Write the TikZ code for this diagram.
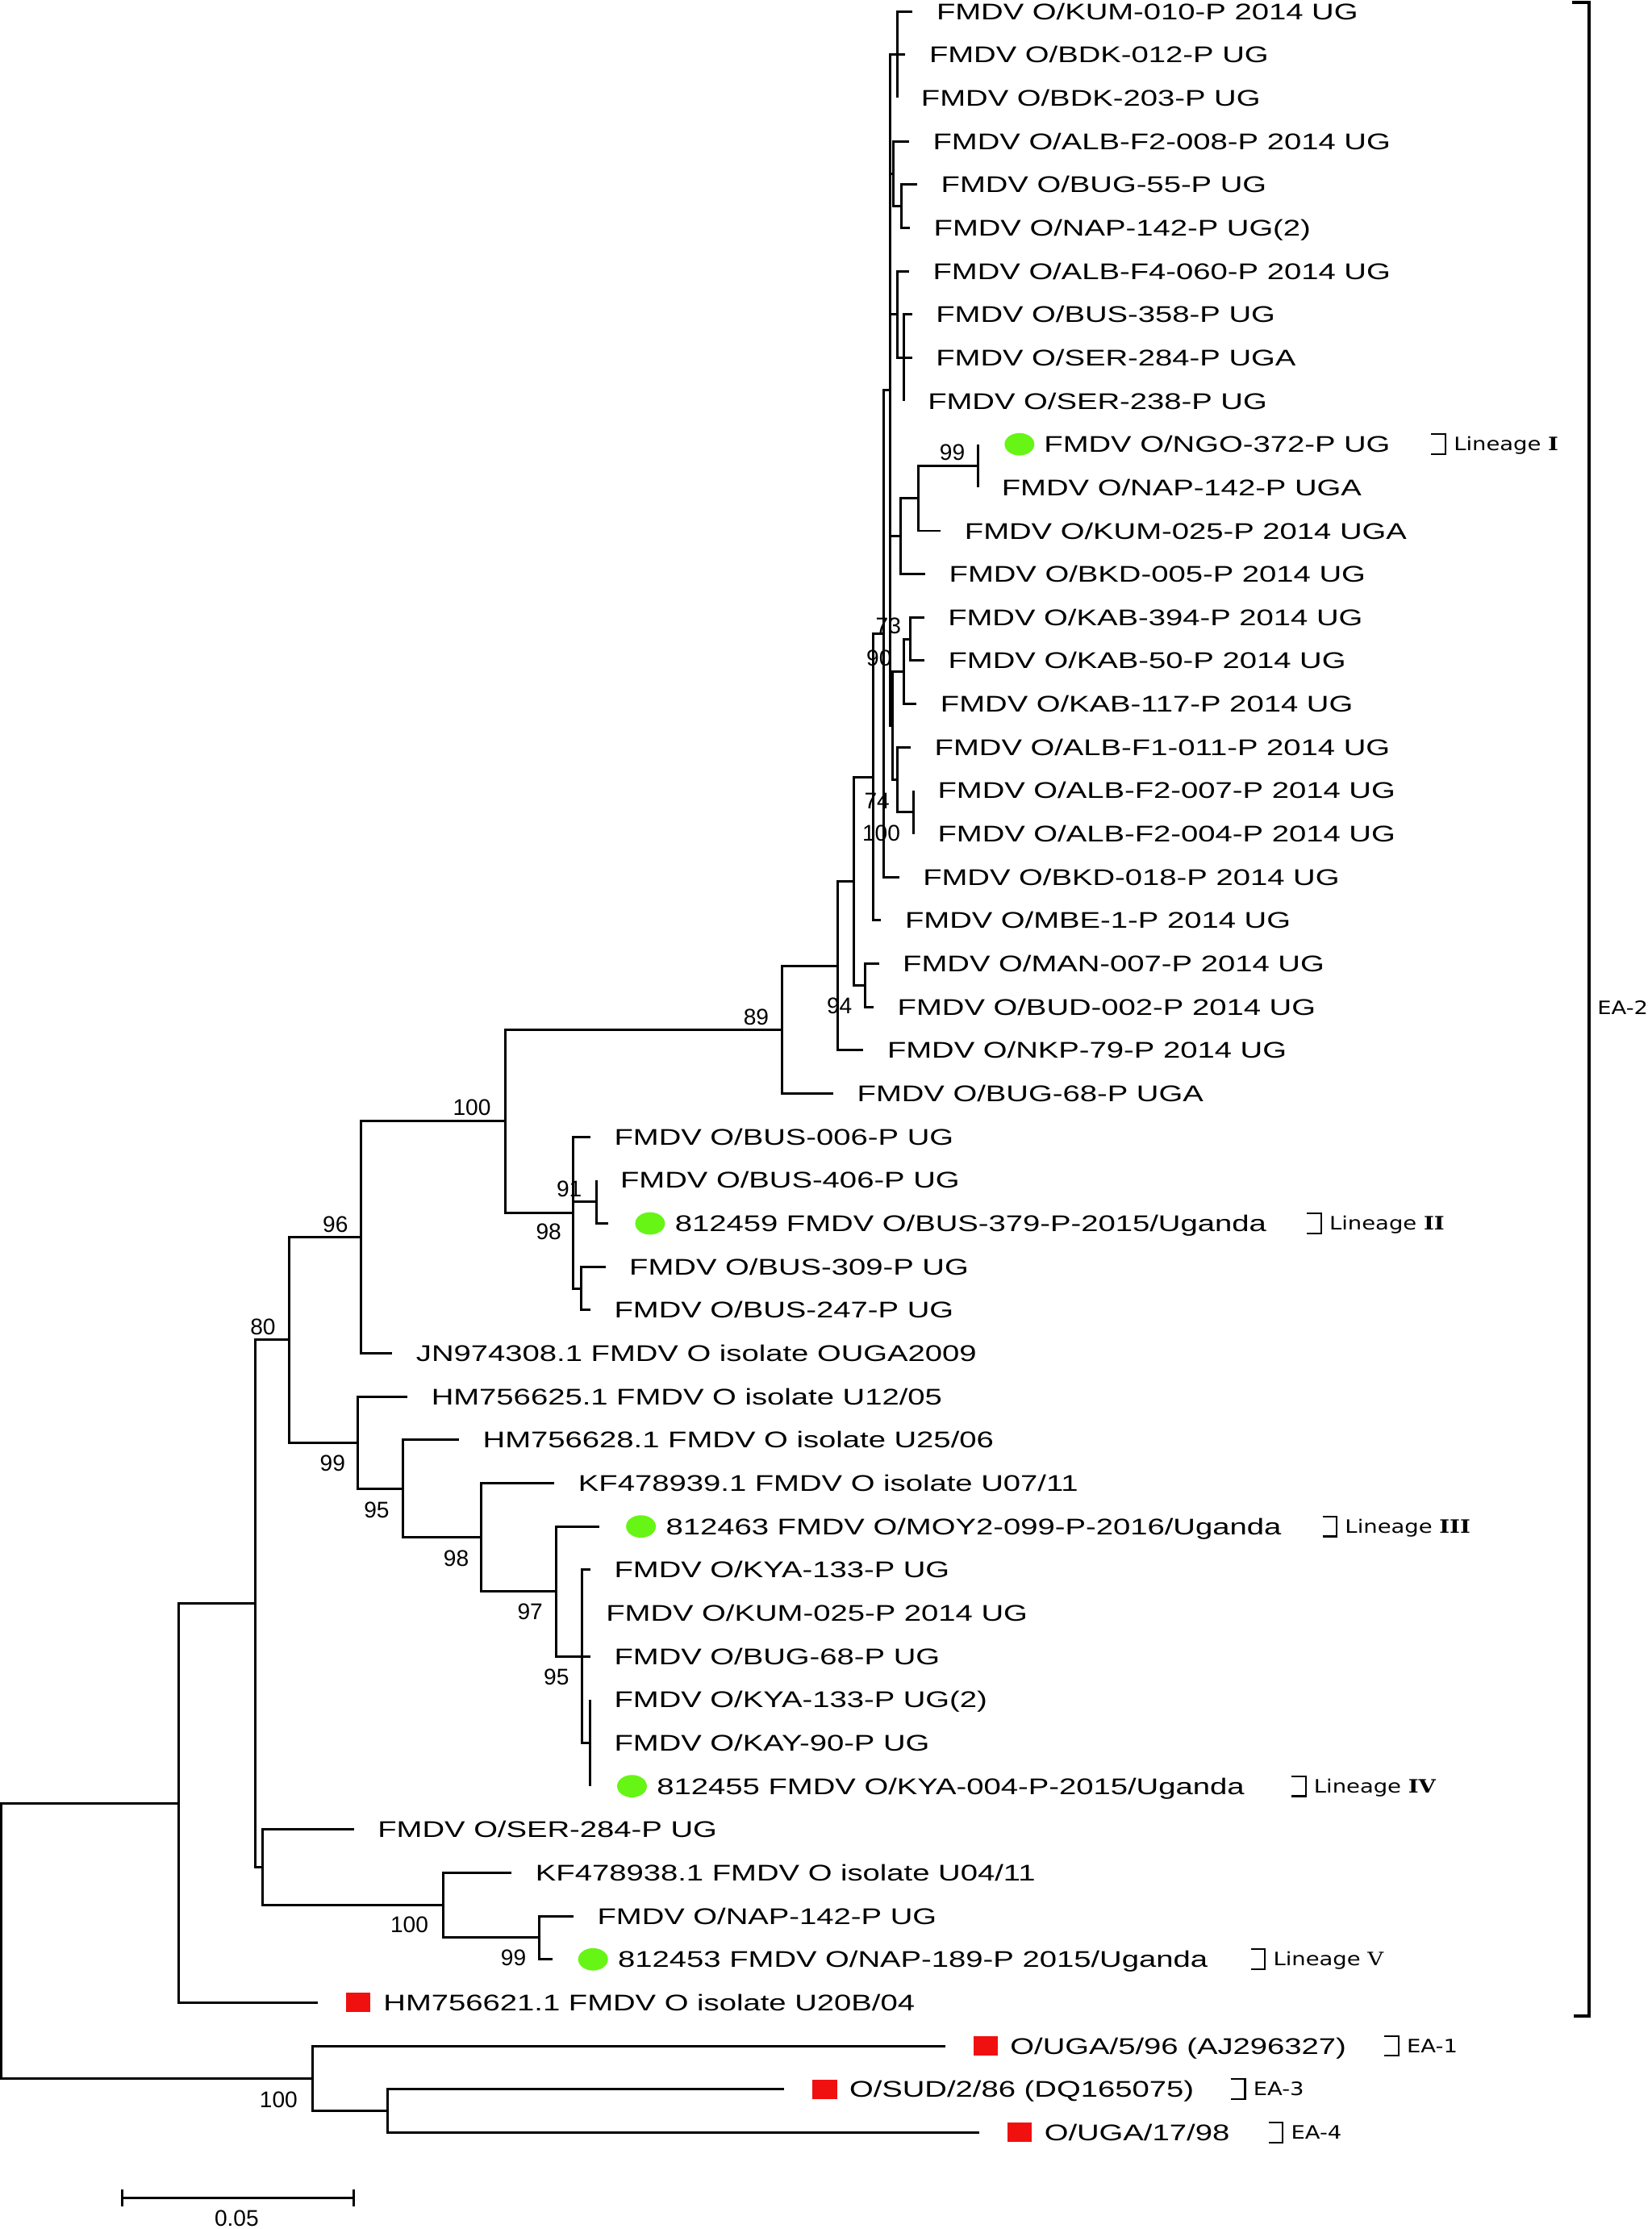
\documentclass[tikz,border=0pt]{standalone}
\usepackage{fontspec}
\setmainfont[FakeStretch=1.36]{Liberation Sans}
\newfontfamily\bsfont{Liberation Sans}
\newfontfamily\cladefont[FakeStretch=1.2]{DejaVu Sans}
\newfontfamily\romfont[FakeStretch=1.2]{DejaVu Serif}
\usetikzlibrary{positioning,shapes.geometric}
\definecolor{dotgreen}{RGB}{102,245,20}
\definecolor{boxred}{RGB}{240,16,16}
\newcommand{\cladebrk}[4]{
	\draw[line width=0.6pt] ({#2-10},{#3-0.23}) -- (#2,{#3-0.23}) -- (#2,{#3+0.23}) -- ({#2-10},{#3+0.23});
	\node[cladetxt] (#1) at ({#2+5},#3) {#4};
}

\begin{document}
\begin{tikzpicture}[x=0.017625cm,y=-0.53668cm,line width=0.85pt,
		leaf/.style={anchor=west,inner sep=0pt,font=\fontsize{8}{9}\selectfont,text height=5.7pt,text depth=0pt},
		boot/.style={inner sep=0pt,font=\bsfont\fontsize{8}{9}\selectfont,text height=5.7pt,text depth=0pt},
		gdot/.style={ellipse,fill=dotgreen,draw=none,inner sep=0pt,minimum width=10.5pt,minimum height=7.9pt},
		rbox/.style={rectangle,fill=boxred,draw=none,inner sep=0pt,minimum width=8.7pt,minimum height=6.8pt},
		cladetxt/.style={anchor=west,inner sep=0pt,font=\cladefont\fontsize{6.5}{8}\selectfont,text height=4.7pt,text depth=0pt}]
				\path[fill=white,use as bounding box] (0,0.7373) rectangle (1162,52.23);

				\coordinate (t1) at (642.1,1);
				\coordinate (t2) at (637.0,2);
				\coordinate (t3) at (631.3,3);
				\coordinate (t4) at (639.6,4);
				\coordinate (t5) at (645.3,5);
				\coordinate (t6) at (640.2,6);
				\coordinate (t7) at (639.6,7);
				\coordinate (t8) at (641.7,8);
				\coordinate (t9) at (641.7,9);
				\coordinate (t10) at (636.0,10);
				\coordinate (t11) at (688.0,11);
				\coordinate (t12) at (688.0,12);
				\coordinate (t13) at (661.9,13);
				\coordinate (t14) at (651.0,14);
				\coordinate (t15) at (650.2,15);
				\coordinate (t16) at (650.4,16);
				\coordinate (t17) at (644.9,17);
				\coordinate (t18) at (640.8,18);
				\coordinate (t19) at (643.0,19);
				\coordinate (t20) at (643.0,20);
				\coordinate (t21) at (632.6,21);
				\coordinate (t22) at (620.0,22);
				\coordinate (t23) at (618.4,23);
				\coordinate (t24) at (614.7,24);
				\coordinate (t25) at (607.5,25);
				\coordinate (t26) at (586.3,26);
				\coordinate (t27) at (415.4,27);
				\coordinate (t28) at (419.7,28);
				\coordinate (t29) at (428.1,29);
				\coordinate (t30) at (426.0,30);
				\coordinate (t31) at (415.4,31);
				\coordinate (t32) at (276.0,32);
				\coordinate (t33) at (286.7,33);
				\coordinate (t34) at (323.0,34);
				\coordinate (t35) at (390.1,35);
				\coordinate (t36) at (421.7,36);
				\coordinate (t37) at (415.4,37);
				\coordinate (t38) at (409.6,38);
				\coordinate (t39) at (415.4,39);
				\coordinate (t40) at (415.4,40);
				\coordinate (t41) at (415.4,41);
				\coordinate (t42) at (415.4,42);
				\coordinate (t43) at (249.0,43);
				\coordinate (t44) at (360.0,44);
				\coordinate (t45) at (403.5,45);
				\coordinate (t46) at (389.0,46);
				\coordinate (t47) at (223.6,47);
				\coordinate (t48) at (665.0,48);
				\coordinate (t49) at (551.8,49);
				\coordinate (t50) at (689.0,50);

				\coordinate (nA) at (631.3,2);
				\coordinate (nB) at (628.8,4.75);
				\coordinate (nC) at (634.0,5.5);
				\coordinate (nD) at (631.1,8);
				\coordinate (nE) at (636.0,9);
				\coordinate (nL) at (688.0,11.5);
				\coordinate (nN1) at (646.4,12.25);
				\coordinate (nN2) at (633.5,13.125);
				\coordinate (nK1) at (640.2,15.5);
				\coordinate (nK2) at (635.8,16.25);
				\coordinate (nF) at (643.0,19.5);
				\coordinate (nAL) at (631.3,18.75);
				\coordinate (nQ) at (627.9,17.5);
				\coordinate (nP) at (626.0,9.75);
				\coordinate (nR) at (621.8,15.375);
				\coordinate (nS) at (614.3,18.69);
				\coordinate (nM) at (608.6,23.5);
				\coordinate (nT) at (601.0,21.09);
				\coordinate (nU) at (589.3,23.05);
				\coordinate (nV) at (550.0,24.52);
				\coordinate (nY) at (419.7,28.5);
				\coordinate (nZ) at (409.1,30.5);
				\coordinate (nX) at (403.2,28.75);
				\coordinate (nW) at (355.6,26.64);
				\coordinate (nAA) at (253.7,29.32);
				\coordinate (nHH) at (415.4,41);
				\coordinate (nGG) at (409.6,39);
				\coordinate (nFF) at (391.1,37.5);
				\coordinate (nEE) at (338.7,36.25);
				\coordinate (nDD) at (283.3,35.125);
				\coordinate (nCC) at (251.9,34.06);
				\coordinate (nBB) at (203.6,31.69);
				\coordinate (nLL) at (379.2,45.5);
				\coordinate (nKK) at (311.9,44.75);
				\coordinate (nJJ) at (184.5,43.875);
				\coordinate (nII) at (179.5,37.78);
				\coordinate (nMM) at (125.6,42.39);
				\coordinate (nOO) at (272.5,49.5);
				\coordinate (nNN) at (220.0,48.75);
				\coordinate (root) at (1.1,45.57);

				\draw (nA) |- (t1) (nA) |- (t2) (nA) |- (t3);
				\draw (nC) |- (t5) (nC) |- (t6);
				\draw (nB) |- (t4) (nB) |- (nC);
				\draw (nE) |- (t8) (nE) |- (t9) (nE) |- (t10);
				\draw (nD) |- (t7) (nD) |- (nE);
				\draw (nL) |- (t11) (nL) |- (t12);
				\draw (nN1) |- (nL) (nN1) |- (t13);
				\draw (nN2) |- (nN1) (nN2) |- (t14);
				\draw (nK1) |- (t15) (nK1) |- (t16);
				\draw (nK2) |- (nK1) (nK2) |- (t17);
				\draw (nF) |- (t19) (nF) |- (t20);
				\draw (nAL) |- (t18) (nAL) |- (nF);
				\draw (nQ) |- (nK2) (nQ) |- (nAL);
				\draw (nP) |- (nA) (nP) |- (nB) (nP) |- (nD) (nP) |- (nN2) (nP) |- (nQ);
				\draw (nR) |- (nP) (nR) |- (t21);
				\draw (nS) |- (nR) (nS) |- (t22);
				\draw (nM) |- (t23) (nM) |- (t24);
				\draw (nT) |- (nS) (nT) |- (nM);
				\draw (nU) |- (nT) (nU) |- (t25);
				\draw (nV) |- (nU) (nV) |- (t26);
				\draw (nY) |- (t28) (nY) |- (t29);
				\draw (nZ) |- (t30) (nZ) |- (t31);
				\draw (nX) |- (t27) (nX) |- (nY) (nX) |- (nZ);
				\draw (nW) |- (nV) (nW) |- (nX);
				\draw (nAA) |- (nW) (nAA) |- (t32);
				\draw (nHH) |- (t40) (nHH) |- (t41) (nHH) |- (t42);
				\draw (nGG) |- (t37) (nGG) |- (t38) (nGG) |- (t39) (nGG) |- (nHH);
				\draw (nFF) |- (t36) (nFF) |- (nGG);
				\draw (nEE) |- (t35) (nEE) |- (nFF);
				\draw (nDD) |- (t34) (nDD) |- (nEE);
				\draw (nCC) |- (t33) (nCC) |- (nDD);
				\draw (nBB) |- (nAA) (nBB) |- (nCC);
				\draw (nLL) |- (t45) (nLL) |- (t46);
				\draw (nKK) |- (t44) (nKK) |- (nLL);
				\draw (nJJ) |- (t43) (nJJ) |- (nKK);
				\draw (nII) |- (nBB) (nII) |- (nJJ);
				\draw (nMM) |- (nII) (nMM) |- (t47);
				\draw (nOO) |- (t49) (nOO) |- (t50);
				\draw (nNN) |- (t48) (nNN) |- (nOO);
				\draw (root) |- (nMM) (root) |- (nNN);

				\node[leaf,right=8pt of t1] (l1) {FMDV O/KUM-010-P 2014 UG};
				\node[leaf,right=8pt of t2] (l2) {FMDV O/BDK-012-P UG};
				\node[leaf,right=8pt of t3] (l3) {FMDV O/BDK-203-P UG};
				\node[leaf,right=8pt of t4] (l4) {FMDV O/ALB-F2-008-P 2014 UG};
				\node[leaf,right=8pt of t5] (l5) {FMDV O/BUG-55-P UG};
				\node[leaf,right=8pt of t6] (l6) {FMDV O/NAP-142-P UG(2)};
				\node[leaf,right=8pt of t7] (l7) {FMDV O/ALB-F4-060-P 2014 UG};
				\node[leaf,right=8pt of t8] (l8) {FMDV O/BUS-358-P UG};
				\node[leaf,right=8pt of t9] (l9) {FMDV O/SER-284-P UGA};
				\node[leaf,right=8pt of t10] (l10) {FMDV O/SER-238-P UG};
				\node[gdot,right=9pt of t11] (g11) {};
				\node[leaf,right=2.6pt of g11] (l11) {FMDV O/NGO-372-P UG};
				\node[leaf,right=8pt of t12] (l12) {FMDV O/NAP-142-P UGA};
				\node[leaf,right=8pt of t13] (l13) {FMDV O/KUM-025-P 2014 UGA};
				\node[leaf,right=8pt of t14] (l14) {FMDV O/BKD-005-P 2014 UG};
				\node[leaf,right=8pt of t15] (l15) {FMDV O/KAB-394-P 2014 UG};
				\node[leaf,right=8pt of t16] (l16) {FMDV O/KAB-50-P 2014 UG};
				\node[leaf,right=8pt of t17] (l17) {FMDV O/KAB-117-P 2014 UG};
				\node[leaf,right=8pt of t18] (l18) {FMDV O/ALB-F1-011-P 2014 UG};
				\node[leaf,right=8pt of t19] (l19) {FMDV O/ALB-F2-007-P 2014 UG};
				\node[leaf,right=8pt of t20] (l20) {FMDV O/ALB-F2-004-P 2014 UG};
				\node[leaf,right=8pt of t21] (l21) {FMDV O/BKD-018-P 2014 UG};
				\node[leaf,right=8pt of t22] (l22) {FMDV O/MBE-1-P 2014 UG};
				\node[leaf,right=8pt of t23] (l23) {FMDV O/MAN-007-P 2014 UG};
				\node[leaf,right=8pt of t24] (l24) {FMDV O/BUD-002-P 2014 UG};
				\node[leaf,right=8pt of t25] (l25) {FMDV O/NKP-79-P 2014 UG};
				\node[leaf,right=8pt of t26] (l26) {FMDV O/BUG-68-P UGA};
				\node[leaf,right=8pt of t27] (l27) {FMDV O/BUS-006-P UG};
				\node[leaf,right=8pt of t28] (l28) {FMDV O/BUS-406-P UG};
				\node[gdot,right=9pt of t29] (g29) {};
				\node[leaf,right=2.7pt of g29] (l29) {812459 FMDV O/BUS-379-P-2015/Uganda};
				\node[leaf,right=8pt of t30] (l30) {FMDV O/BUS-309-P UG};
				\node[leaf,right=8pt of t31] (l31) {FMDV O/BUS-247-P UG};
				\node[leaf,right=8pt of t32] (l32) {JN974308.1 FMDV O isolate OUGA2009};
				\node[leaf,right=8pt of t33] (l33) {HM756625.1 FMDV O isolate U12/05};
				\node[leaf,right=8pt of t34] (l34) {HM756628.1 FMDV O isolate U25/06};
				\node[leaf,right=8pt of t35] (l35) {KF478939.1 FMDV O isolate U07/11};
				\node[gdot,right=9pt of t36] (g36) {};
				\node[leaf,right=2.7pt of g36] (l36) {812463 FMDV O/MOY2-099-P-2016/Uganda};
				\node[leaf,right=8pt of t37] (l37) {FMDV O/KYA-133-P UG};
				\node[leaf,right=8pt of t38] (l38) {FMDV O/KUM-025-P 2014 UG};
				\node[leaf,right=8pt of t39] (l39) {FMDV O/BUG-68-P UG};
				\node[leaf,right=8pt of t40] (l40) {FMDV O/KYA-133-P UG(2)};
				\node[leaf,right=8pt of t41] (l41) {FMDV O/KAY-90-P UG};
				\node[gdot,right=9pt of t42] (g42) {};
				\node[leaf,right=2.7pt of g42] (l42) {812455 FMDV O/KYA-004-P-2015/Uganda};
				\node[leaf,right=8pt of t43] (l43) {FMDV O/SER-284-P UG};
				\node[leaf,right=8pt of t44] (l44) {KF478938.1 FMDV O isolate U04/11};
				\node[leaf,right=8pt of t45] (l45) {FMDV O/NAP-142-P UG};
				\node[gdot,right=8.5pt of t46] (g46) {};
				\node[leaf,right=2.7pt of g46] (l46) {812453 FMDV O/NAP-189-P 2015/Uganda};
				\node[rbox,right=9.5pt of t47] (s47) {};
				\node[leaf,right=3.7pt of s47] (l47) {HM756621.1 FMDV O isolate U20B/04};
				\node[rbox,right=9.5pt of t48] (s48) {};
				\node[leaf,right=3.5pt of s48] (l48) {O/UGA/5/96 (AJ296327)};
				\node[rbox,right=9.5pt of t49] (s49) {};
				\node[leaf,right=3.5pt of s49] (l49) {O/SUD/2/86 (DQ165075)};
				\node[rbox,right=9.5pt of t50] (s50) {};
				\node[leaf,right=3.5pt of s50] (l50) {O/UGA/17/98};

				\node[boot] (b1) at (670,11.18) {99};
				\node[boot] (b2) at (625,15.19) {73};
				\node[boot] (b3) at (618.5,15.94) {90};
				\node[boot] (b4) at (617,19.23) {74};
				\node[boot] (b5) at (620,19.98) {100};
				\node[boot] (b6) at (590.6,23.96) {94};
				\node[boot] (b7) at (532,24.22) {89};
				\node[boot] (b8) at (332,26.32) {100};
				\node[boot] (b9) at (400.5,28.19) {91};
				\node[boot] (b10) at (386,29.19) {98};
				\node[boot] (b11) at (236,29.01) {96};
				\node[boot] (b12) at (185,31.38) {80};
				\node[boot] (b13) at (234,34.53) {99};
				\node[boot] (b14) at (265,35.61) {95};
				\node[boot] (b15) at (321,36.73) {98};
				\node[boot] (b16) at (373,37.97) {97};
				\node[boot] (b17) at (391.5,39.47) {95};
				\node[boot] (b18) at (288,45.20) {100};
				\node[boot] (b19) at (361.3,45.96) {99};
				\node[boot] (b20) at (196,49.23) {100};

				\cladebrk{lin1}{1017}{11}{Lineage {\romfont\bfseries I}}
				\cladebrk{lin2}{929.5}{29}{Lineage {\romfont\bfseries II}}
				\cladebrk{lin3}{940.5}{36}{Lineage {\romfont\bfseries III}}
				\cladebrk{lin4}{918.6}{42}{Lineage {\romfont\bfseries IV}}
				\cladebrk{lin5}{890}{46}{Lineage {\romfont V}}
				\cladebrk{ea1}{984}{48}{EA-1}
				\cladebrk{ea3}{876}{49}{EA-3}
				\cladebrk{ea4}{902.5}{50}{EA-4}
				\draw[line width=1.1pt] (1106,0.79) -- (1118,0.79) -- (1118,47.31) -- (1107,47.31);
				\node[cladetxt] (ea2) at (1123,24.02) {EA-2};

				\coordinate (sc1) at (86.1,51.51);
				\coordinate (sc2) at (249.0,51.51);
				\draw (sc1) -- (sc2);
				\draw ([yshift=3pt]sc1) -- ([yshift=-3pt]sc1) ([yshift=3pt]sc2) -- ([yshift=-3pt]sc2);
				\node[boot] (scl) at (166.5,51.97) {0.05};
\end{tikzpicture}
\end{document}
